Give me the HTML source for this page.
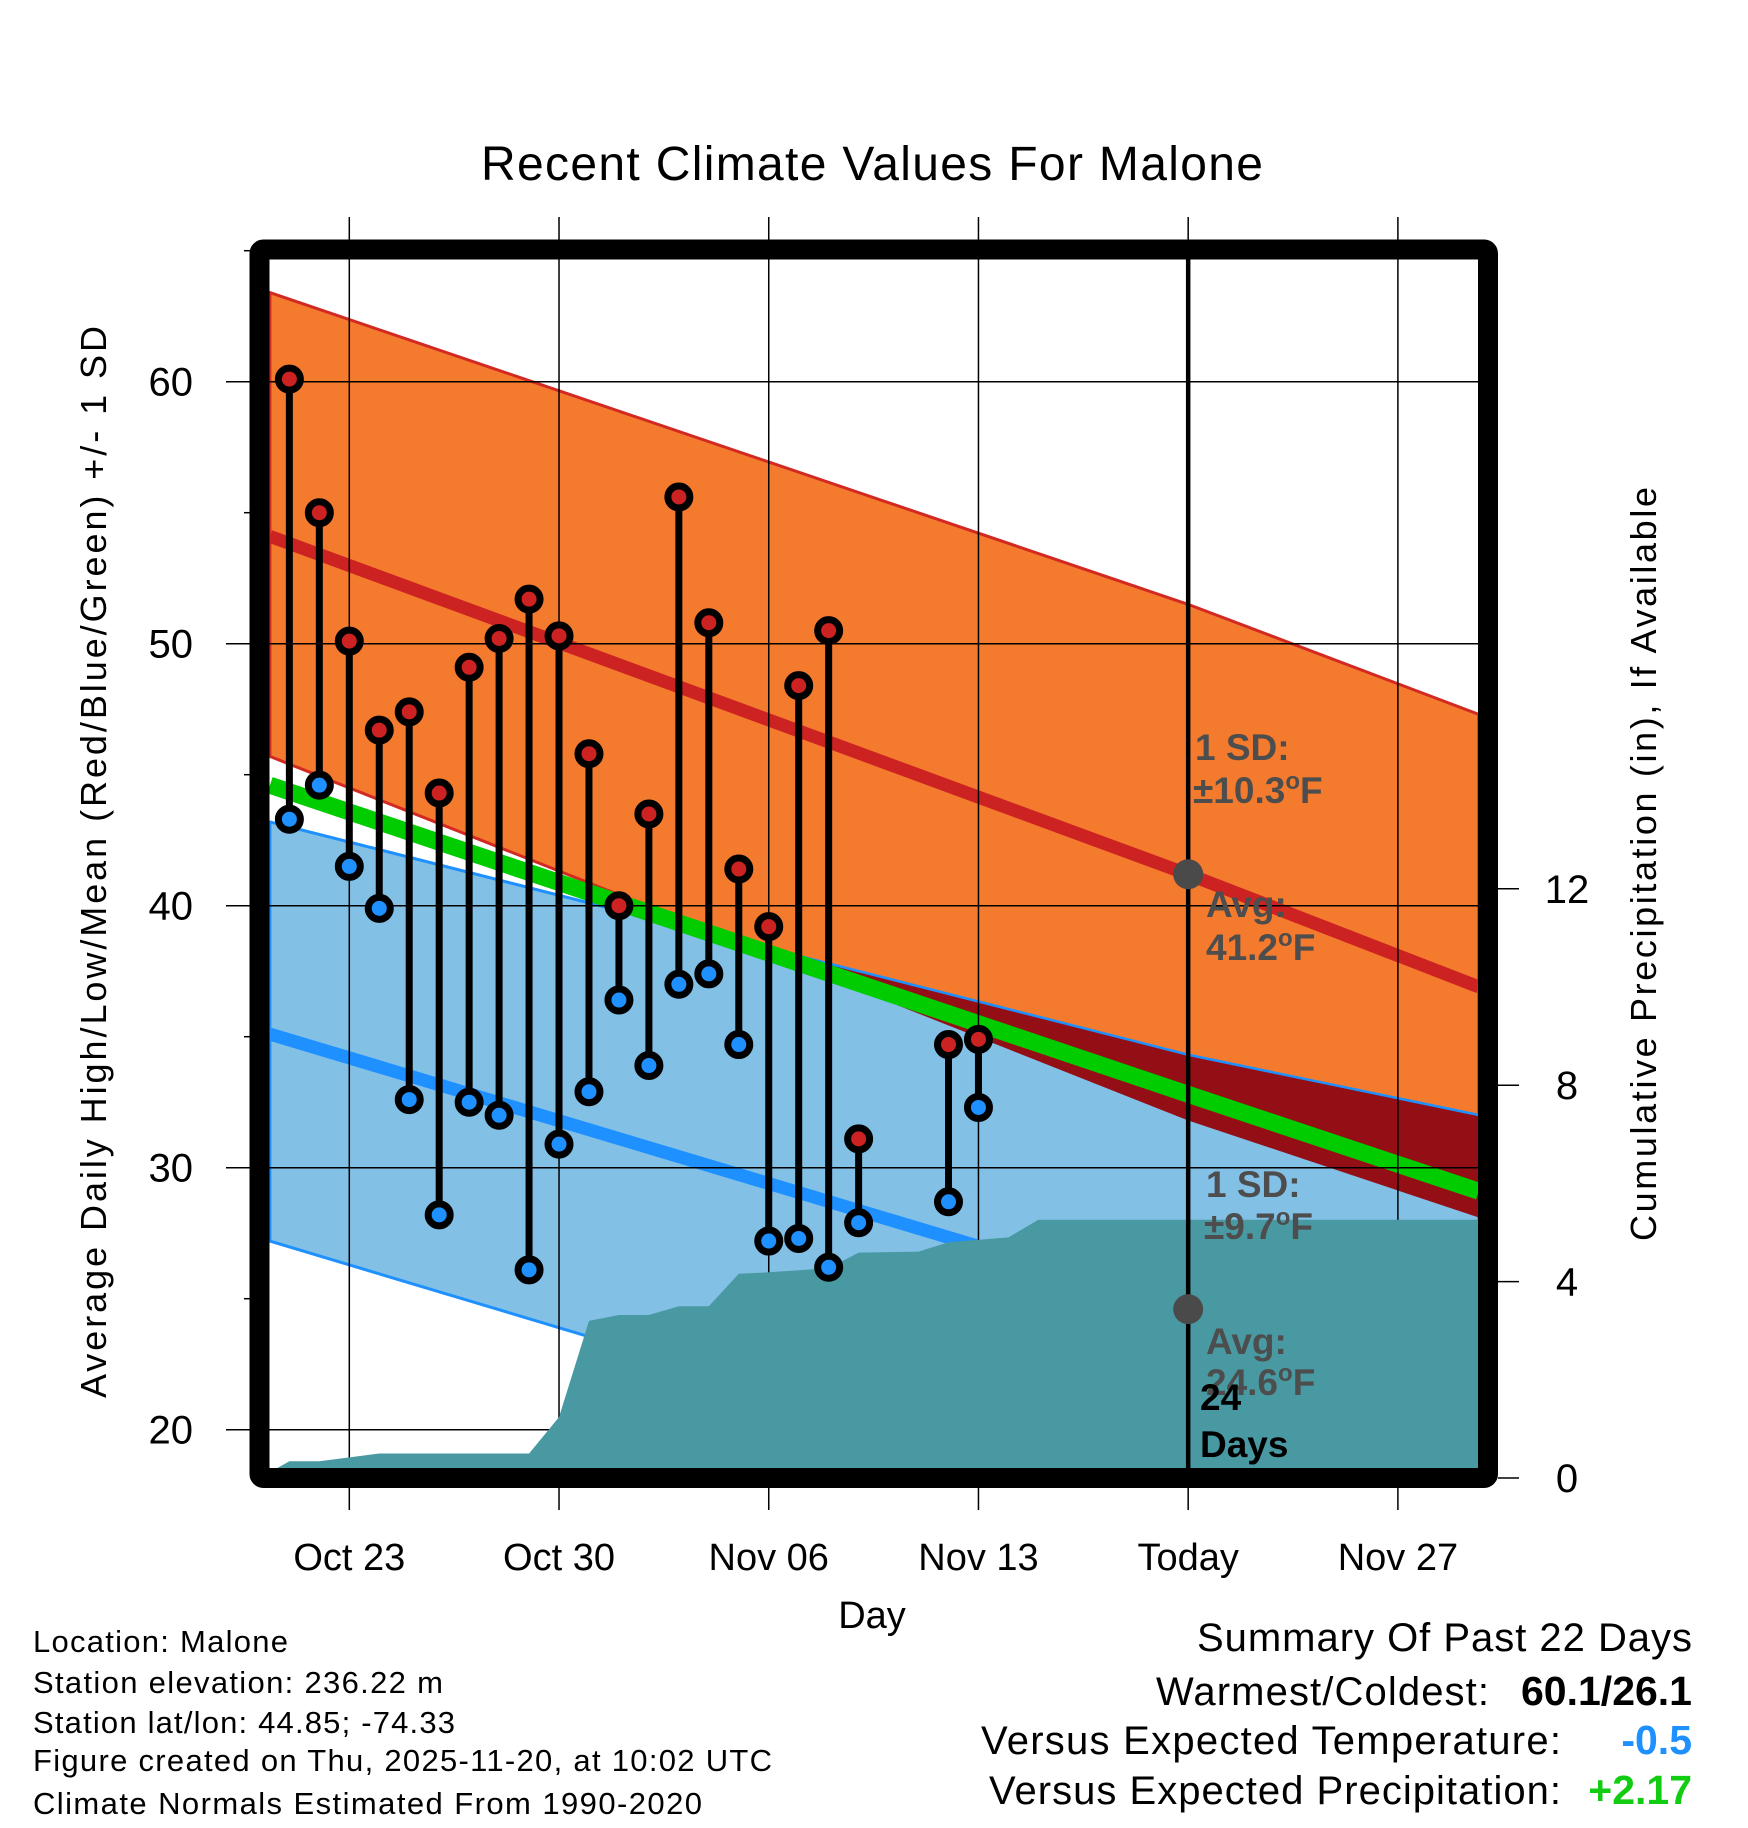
<!DOCTYPE html>
<html><head><meta charset="utf-8"><style>
html,body{margin:0;padding:0;background:#fff;}
svg{display:block;font-family:"Liberation Sans",Arial,sans-serif;}
</style></head><body>
<svg id="chart" width="1748" height="1828" viewBox="0 0 1748 1828" xmlns="http://www.w3.org/2000/svg">
<defs>
<clipPath id="plotClip"><rect x="269" y="259" width="1210" height="1210"/></clipPath>
</defs>
<g id="layer"></g>
</svg>
<script>
// ---- data ----
const obsDays = [-2,-1,0,1,2,3,4,5,6,7,8,9,10,11,12,13,14,15,16,17,20,21];
const obsHigh = [60.1,55.0,50.1,46.7,47.4,44.3,49.1,50.2,51.7,50.3,45.8,40.0,43.5,55.6,50.8,41.4,39.2,48.4,50.5,31.1,34.7,34.9];
const obsLow  = [43.3,44.6,41.5,39.9,32.6,28.2,32.5,32.0,26.1,30.9,32.9,36.4,33.9,37.0,37.4,34.7,27.2,27.3,26.2,27.9,28.7,32.3];
const normDays    = [-2.65,28,37.7];
const normHighUp  = [63.4,51.5,47.3];
const normHighAvg = [54.1,41.2,36.9];
const normHighLo  = [45.7,31.8,28.1];
const normLowUp   = [43.2,34.3,32.0];
const normLowAvg  = [35.1,24.6,21.4];
const normLowLo   = [27.2,16.7,13.3];
const normMean    = [44.6,32.8,29.1];
const precipDays  = [-3,-2,-1,1,6,7,8,9,10,11,12,13,14,15,16,17,19,20,22,23,38];
const precipCum   = [0,0.34,0.34,0.5,0.5,1.24,3.2,3.32,3.32,3.5,3.5,4.16,4.19,4.23,4.27,4.59,4.61,4.8,4.9,5.26,5.26];
const xTickDays   = [0,7,14,21,28,35];
const xTickLabels = ["Oct 23","Oct 30","Nov 06","Nov 13","Today","Nov 27"];
const yTicks      = [20,30,40,50,60];
const yMinor      = [25,35,45,55,65];
const pTicks      = [0,4,8,12];
const todayDay = 28;

// ---- scales ----
const X = d => 349.3 + d*29.96;
const Y = t => 381.7 + (60-t)*26.2;
const YP = p => 1478 - p*49.1;

const NS="http://www.w3.org/2000/svg";
const root=document.getElementById('layer');
function mk(tag,attrs,parent){const e=document.createElementNS(NS,tag);for(const k in attrs)e.setAttribute(k,attrs[k]);(parent||root).appendChild(e);return e;}
const pts=(ds,vs)=>ds.map((d,i)=>X(d).toFixed(1)+','+Y(vs[i]).toFixed(1));
const band=(up,lo)=>pts(normDays,up).concat(pts(normDays,lo).reverse()).join(' ');

const plot=mk('g',{'clip-path':'url(#plotClip)'});



let e;
e=mk('polygon',{points:band(normHighUp,normHighLo),fill:'#f47a2e',stroke:'#d22a22','stroke-width':3},plot);


e=mk('polygon',{points:band(normLowUp,normLowLo),fill:'#82c0e6',stroke:'#1e90ff','stroke-width':3},plot);


const cp=mk('clipPath',{id:'hiClip'},document.querySelector('defs'));
mk('polygon',{points:band(normHighUp,normHighLo)},cp);
e=mk('polygon',{points:band(normLowUp,normLowLo),fill:'#930f15','clip-path':'url(#hiClip)'},plot);


e=mk('polyline',{points:pts(normDays,normLowUp).join(' '),fill:'none',stroke:'#1e90ff','stroke-width':2},plot);


e=mk('polyline',{points:pts(normDays,normMean).join(' '),fill:'none',stroke:'#00cc00','stroke-width':17},plot);


e=mk('polyline',{points:pts(normDays,normHighAvg).join(' '),fill:'none',stroke:'#cc2222','stroke-width':13},plot);


e=mk('polyline',{points:pts(normDays,normLowAvg).join(' '),fill:'none',stroke:'#1e90ff','stroke-width':13},plot);



// gridlines
xTickDays.forEach((d,i)=>{
  const g=mk('line',{x1:X(d),x2:X(d),y1:217,y2:1510,stroke:'#000','stroke-width':1.5});
  
  
});
yTicks.forEach(t=>{
  const g=mk('line',{x1:226,x2:1478,y1:Y(t),y2:Y(t),stroke:'#000','stroke-width':1.5});
  
  
});
yMinor.forEach(t=>{
  const g=mk('line',{x1:244,x2:260,y1:Y(t),y2:Y(t),stroke:'#000','stroke-width':1.5});
  
  
});

// precipitation
const pp=precipDays.map((d,i)=>X(d).toFixed(1)+','+YP(precipCum[i]).toFixed(1));
pp.push(X(38)+','+YP(0)); pp.push(X(-3)+','+YP(0));
const plot2=mk('g',{'clip-path':'url(#plotClip)'});
e=mk('polygon',{points:pp.join(' '),fill:'#4899a2'},plot2);



// today line
e=mk('line',{x1:X(todayDay),x2:X(todayDay),y1:255,y2:1480,stroke:'#000','stroke-width':4.5});



// frame
e=mk('rect',{x:259.5,y:249.5,width:1228.5,height:1228.5,fill:'none',stroke:'#000','stroke-width':20,rx:4});



// right ticks
pTicks.forEach(p=>{
  const t=mk('line',{x1:1498,x2:1519,y1:YP(p),y2:YP(p),stroke:'#000','stroke-width':1.5});
  
  
  const l=mk('text',{x:1567,y:YP(p)+14,'font-size':40,'text-anchor':'middle'});
  l.textContent=p;
  
  
});
yTicks.forEach(t=>{
  const l=mk('text',{x:193,y:Y(t)+14,'font-size':40,'text-anchor':'end'});
  l.textContent=t;
  
  
});
xTickDays.forEach((d,i)=>{
  const l=mk('text',{x:X(d),y:1570,'font-size':38,'text-anchor':'middle'});
  l.textContent=xTickLabels[i];
  
  
});

// observations
obsDays.forEach((d,i)=>{
  const s=mk('line',{x1:X(d),x2:X(d),y1:Y(obsHigh[i]),y2:Y(obsLow[i]),stroke:'#000','stroke-width':7});
  
  
  const h=mk('circle',{cx:X(d),cy:Y(obsHigh[i]),r:11,fill:'#cc2222',stroke:'#000','stroke-width':7});
  
  
  const lo=mk('circle',{cx:X(d),cy:Y(obsLow[i]),r:11,fill:'#1e90ff',stroke:'#000','stroke-width':7});
  
  
});

// today markers
e=mk('circle',{cx:X(todayDay),cy:Y(normHighAvg[1]),r:15,fill:'#4a4a4a'});


e=mk('circle',{cx:X(todayDay),cy:Y(normLowAvg[1]),r:15,fill:'#4a4a4a'});


</script>
<script>
(function(){
const NS="http://www.w3.org/2000/svg";
const svg=document.getElementById('chart');
function txt(x,y,s,str,extra,name){
  const t=document.createElementNS(NS,'text');
  t.setAttribute('x',x);t.setAttribute('y',y);t.setAttribute('font-size',s);
  for(const k in extra)t.setAttribute(k,extra[k]);
  t.innerHTML=str;
  
  
  svg.appendChild(t);return t;
}
const ann={fill:'#4d4d4d','font-weight':'bold'};
txt(1195,760,37,'1 SD:',ann,'high-sd-label');
txt(1193,803,37,'±10.3<tspan font-size="24" dy="-14">o</tspan><tspan dy="14">F</tspan>',ann,'high-sd-value');
txt(1206,917,37,'Avg:',ann,'high-avg-label');
txt(1206,960,37,'41.2<tspan font-size="24" dy="-14">o</tspan><tspan dy="14">F</tspan>',ann,'high-avg-value');
txt(1206,1197,37,'1 SD:',ann,'low-sd-label');
txt(1204,1239,37,'±9.7<tspan font-size="24" dy="-14">o</tspan><tspan dy="14">F</tspan>',ann,'low-sd-value');
txt(1206,1354,37,'Avg:',ann,'low-avg-label');
txt(1206,1395,37,'24.6<tspan font-size="24" dy="-14">o</tspan><tspan dy="14">F</tspan>',ann,'low-avg-value');
txt(1200,1410,37,'24',{'font-weight':'bold'},'days-count');
txt(1200,1457,37,'Days',{'font-weight':'bold'},'days-label');

txt(872,180,48,'Recent Climate Values For Malone',{'text-anchor':'middle',textLength:782},'chart-title');
txt(872,1628,38,'Day',{'text-anchor':'middle'},'x-axis-title');
txt(0,0,36,'Average Daily High/Low/Mean (Red/Blue/Green) +/- 1 SD',{'text-anchor':'middle',transform:'translate(106,862) rotate(-90)',textLength:1072},'y-axis-title');
txt(0,0,36,'Cumulative Precipitation (in), If Available',{'text-anchor':'middle',transform:'translate(1656,864) rotate(-90)',textLength:754},'y2-axis-title');

const info=['Location: Malone','Station elevation: 236.22 m','Station lat/lon: 44.85; -74.33','Figure created on Thu, 2025-11-20, at 10:02 UTC','Climate Normals Estimated From 1990-2020'];
const ib=[1652,1693,1733,1771,1814];
const iw=[255,410,422,739,669];
info.forEach((s,i)=>txt(33,ib[i],31,s,{textLength:iw[i]},'station-info-line'));

txt(1197,1651,40,'Summary Of Past 22 Days',{textLength:495},'summary-title');
txt(1156,1705,40,'Warmest/Coldest:',{textLength:333},'warmest-coldest-label');
txt(1692,1705,41,'60.1/26.1',{'text-anchor':'end','font-weight':'bold'},'warmest-coldest-value');
txt(981,1754,40,'Versus Expected Temperature:',{textLength:580},'temp-departure-label');
txt(1692,1754,41,'-0.5',{'text-anchor':'end','font-weight':'bold',fill:'#1e90ff'},'temp-departure-value');
txt(989,1804,40,'Versus Expected Precipitation:',{textLength:572},'precip-departure-label');
txt(1692,1804,41,'+2.17',{'text-anchor':'end','font-weight':'bold',fill:'#11cc11'},'precip-departure-value');
})();
</script>
</body></html>
